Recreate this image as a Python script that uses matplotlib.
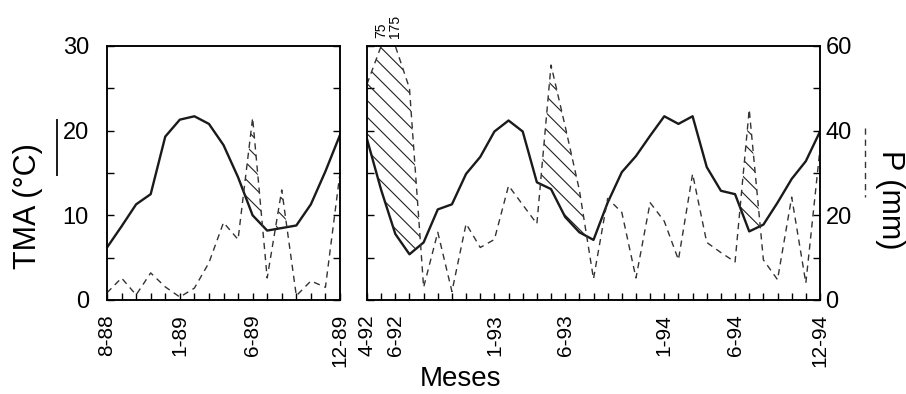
import numpy as np
import matplotlib
matplotlib.use('Agg')
import matplotlib.pyplot as plt
from matplotlib.lines import Line2D
from matplotlib.ticker import MultipleLocator

plt.rcParams['font.family'] = ['Liberation Sans', 'DejaVu Sans']
plt.rcParams['hatch.linewidth'] = 0.8

# Periodo 1: 8-88 a 12-89 (mensual)
tma_89 = [6.2, 8.7, 11.3, 12.5, 19.3, 21.3, 21.7, 20.8, 18.3, 14.5, 10.0,
          8.2, 8.5, 8.8, 11.3, 15.2, 19.5]
p_89 = [1.7, 5.2, 1.2, 6.4, 3.1, 0.7, 2.8, 8.8, 18.3, 14.3, 43, 5.2, 26,
        1.0, 4.5, 3.0, 30]
ticks_89 = [0, 5, 10, 16]
meses_89 = ['8-88', '1-89', '6-89', '12-89']

# Periodo 2: 4-92 a 12-94 (mensual)
tma_94 = [19.0, 13.0, 7.8, 5.4, 6.8, 10.7, 11.3, 14.9, 16.9, 19.9, 21.2,
          19.9, 13.9, 13.1, 9.8, 8.0, 7.1, 11.5, 15.1, 17.0, 19.4, 21.7,
          20.8, 21.7, 15.7, 12.9, 12.5, 8.1, 8.9, 11.5, 14.3, 16.4, 19.9]
p_94 = [51, 75, 175, 50, 3, 16, 2, 18, 12.4, 14.3, 27, 22.5, 18, 55.5, 41,
        26, 5, 24, 20.7, 5.2, 23, 18.6, 9.5, 29.8, 13.6, 11.2, 9, 45, 9.5,
        4.8, 24.3, 4, 35.7]
ticks_94 = [0, 2, 9, 14, 21, 26, 32]
meses_94 = ['4-92', '6-92', '1-93', '6-93', '1-94', '6-94', '12-94']

T_MAX = 30
ESCALA = 2  # mm por grado (P = 2T)
P_MAX = T_MAX * ESCALA

W, H = 906, 394
fig = plt.figure(figsize=(W / 100, H / 100), dpi=100)


def panel(rect, tma, p, ticks, meses, izq):
    ax = fig.add_axes(rect)
    axp = ax.twinx()
    x = np.arange(len(tma))
    t = np.array(tma)
    pc = np.minimum(np.array(p, dtype=float), P_MAX)

    # zona humeda rayada (P > 2T)
    axp.fill_between(x, t * ESCALA, pc, where=pc > t * ESCALA, interpolate=True,
                     facecolor='none', edgecolor='#222222', hatch='\\\\', linewidth=0)
    axp.plot(x, pc, color='#333333', lw=1.0, ls=(0, (4.5, 3.5)))
    ax.plot(x, t, color='#1a1a1a', lw=1.7)

    # valores fuera de escala
    for i, v in enumerate(p):
        if v > P_MAX:
            axp.annotate(f'{v:g}', xy=(i, P_MAX), xytext=(0, 6),
                         textcoords='offset points', rotation=90,
                         ha='center', va='bottom', fontsize=10)

    ax.set_xlim(0, len(tma) - 1)
    ax.set_ylim(0, T_MAX)
    axp.set_ylim(0, P_MAX)
    ax.set_xticks(ticks, meses, rotation=90)
    ax.xaxis.set_minor_locator(MultipleLocator(1))
    ax.yaxis.set_major_locator(MultipleLocator(10))
    ax.yaxis.set_minor_locator(MultipleLocator(5))
    axp.yaxis.set_major_locator(MultipleLocator(20))
    axp.yaxis.set_minor_locator(MultipleLocator(10))

    ax.tick_params(which='both', direction='in', length=5, width=1)
    ax.tick_params(axis='x', labelsize=15, pad=10)
    ax.tick_params(axis='y', labelsize=17, pad=13)
    axp.tick_params(which='both', direction='in', length=5, width=1,
                    labelsize=17, pad=4)
    if izq:
        ax.tick_params(axis='y', which='both', right=True)
        axp.tick_params(axis='y', which='both', right=False, labelright=False)
    else:
        ax.tick_params(axis='y', labelleft=False)
    for a in (ax, axp):
        for s in a.spines.values():
            s.set_linewidth(1.1)
    return ax


panel([107 / W, 1 - 300 / H, 233 / W, 254 / H], tma_89, p_89, ticks_89, meses_89, True)
panel([367 / W, 1 - 300 / H, 453 / W, 254 / H], tma_94, p_94, ticks_94, meses_94, False)

fig.text(28 / W, 1 - 206 / H, 'TMA (°C)', rotation=90, fontsize=22,
         ha='center', va='center')
fig.text(890 / W, 1 - 200 / H, 'P (mm)', rotation=270, fontsize=22,
         ha='center', va='center')
fig.text(460 / W, 1 - 379 / H, 'Meses', fontsize=20, ha='center', va='center')

# claves de linea junto a los titulos de eje
fig.add_artist(Line2D([57 / W, 57 / W], [1 - 120 / H, 1 - 175 / H],
                      color='#1a1a1a', lw=1.4))
fig.add_artist(Line2D([865 / W, 865 / W], [1 - 128 / H, 1 - 197 / H],
                      color='#333333', lw=1.0, ls=(0, (4.5, 3.5))))

fig.savefig('out.png', dpi=100)
